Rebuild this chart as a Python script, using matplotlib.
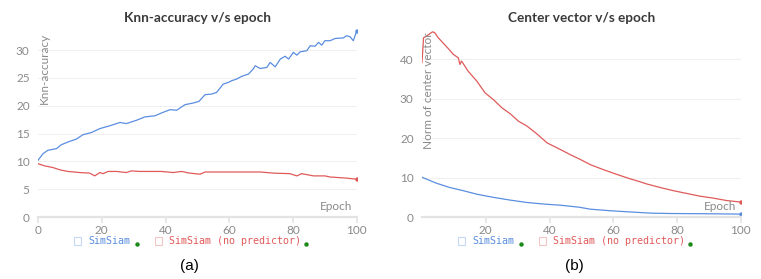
import matplotlib
matplotlib.use("Agg")
import matplotlib.pyplot as plt
from matplotlib.lines import Line2D
from matplotlib.patches import Rectangle

# --- Knn-accuracy v/s epoch ---
knn_simsiam_epoch = [0, 1.6, 3.1, 5.8, 7.3, 9.9, 12.0, 14.1, 16.8, 19.4, 22.5, 25.7, 27.7, 30.9,
                     33.5, 36.7, 38.7, 41.4, 43.5, 46.1, 48.7, 50.5, 52.4, 54.4, 56.0, 58.1, 59.7,
                     60.7, 62.3, 63.9, 66.0, 67.5, 68.1, 69.7, 71.8, 72.8, 74.4, 76.0, 77.5, 78.6,
                     80.1, 81.2, 82.2, 84.3, 85.4, 86.9, 88.0, 89.0, 90.0, 91.6, 93.2, 95.8, 96.8,
                     97.9, 98.9, 100]
knn_simsiam = [10.2, 11.4, 12.0, 12.3, 13.0, 13.6, 14.0, 14.8, 15.2, 15.9, 16.4, 17.0, 16.8, 17.4,
               18.0, 18.2, 18.7, 19.3, 19.2, 20.2, 20.5, 20.8, 22.0, 22.1, 22.4, 23.9, 24.2,
               24.5, 24.8, 25.3, 25.7, 26.6, 27.2, 26.7, 26.9, 27.8, 27.0, 28.4, 28.9, 28.4,
               29.6, 29.1, 29.7, 29.9, 30.8, 30.7, 31.4, 30.9, 31.7, 31.7, 32.1, 32.2, 32.6,
               32.4, 31.7, 33.5]

knn_nopred_epoch = [0, 2.1, 4.7, 6.8, 9.4, 13.1, 16.2, 17.8, 19.4, 20.4, 22.0, 24.6, 27.7, 29.3,
                    31.9, 35.1, 38.7, 42.4, 45.0, 47.6, 50.8, 52.4, 61.3, 69.7, 73.8, 79.0, 81.2,
                    82.7, 86.4, 90.0, 91.6, 96.8, 100]
knn_nopred = [9.6, 9.2, 8.9, 8.5, 8.2, 8.0, 7.9, 7.4, 8.0, 7.8, 8.2, 8.2, 8.0, 8.3,
              8.2, 8.2, 8.2, 8.0, 8.2, 7.9, 7.7, 8.1, 8.1, 8.1, 7.9, 7.8, 7.4,
              7.8, 7.4, 7.4, 7.2, 7.0, 6.8]

# --- Center vector v/s epoch ---
cv_nopred_epoch = [0, 0.5, 1.4, 2.4, 3.3, 4.0, 5.1, 6.6, 8.2, 9.8, 11.4, 11.9, 12.4, 14.5, 17.2,
                   19.8, 22.4, 25.1, 27.7, 30.3, 32.9, 35.6, 39.3, 43.5, 46.6, 49.7, 52.8, 57.0,
                   61.2, 65.3, 67.4, 70.5, 74.7, 78.8, 83.0, 87.2, 91.4, 95.5, 100]
cv_nopred = [39.2, 45.5, 45.9, 46.5, 47.0, 46.8, 45.5, 44.2, 42.8, 41.3, 40.4, 38.7, 39.6, 37.0,
             34.5, 31.5, 29.8, 27.7, 26.2, 24.3, 23.1, 21.4, 18.8, 17.1, 15.8, 14.6, 13.3, 12.0,
             10.8, 9.7, 9.2, 8.4, 7.5, 6.7, 6.0, 5.3, 4.8, 4.2, 3.8]

cv_simsiam_epoch = [0, 4.5, 8.7, 12.9, 17.2, 22.4, 27.7, 32.9, 38.2, 43.5, 49.3, 52.8, 59.1, 65.3,
                    71.6, 77.8, 88.2, 100]
cv_simsiam = [10.1, 8.6, 7.5, 6.7, 5.8, 5.0, 4.3, 3.7, 3.3, 3.0, 2.5, 2.0, 1.6, 1.3,
              1.0, 0.9, 0.85, 0.75]

BLUE = "#5b8ee0"
RED = "#e05a5a"
GREEN = "#1a8a1a"
GRAY = "#8a8a8a"

plt.rcParams["font.family"] = ["Lato", "DejaVu Sans"]

W, H = 761, 279
fig = plt.figure(figsize=(W / 100, H / 100), dpi=100)


def style_axes(ax, ylabel, ymax, yticks, xticks):
    for s in ["top", "right", "left"]:
        ax.spines[s].set_visible(False)
    ax.spines["bottom"].set_color("#e3e3e3")
    ax.spines["bottom"].set_linewidth(1.6)
    ax.set_ylim(0, ymax)
    ax.set_xlim(0, 100)
    ax.set_yticks(yticks)
    ax.set_xticks(xticks)
    ax.tick_params(axis="y", length=0, labelsize=8.5, labelcolor=GRAY, pad=6)
    ax.tick_params(axis="x", length=4, color="#e3e3e3", width=1.2, labelsize=8.5,
                   labelcolor=GRAY, pad=2)
    ax.grid(axis="y", color="#f0f0f0", linewidth=0.8)
    ax.set_axisbelow(True)
    ax.text(0.985, 0.025, "Epoch", transform=ax.transAxes, ha="right", va="bottom",
            fontsize=8.5, color=GRAY)
    ax.text(0.003, 0.975, ylabel, transform=ax.transAxes, rotation=90, ha="left", va="top",
            fontsize=8.5, color=GRAY)


# left panel
ax1 = fig.add_axes([0.0499, 0.222, 0.419, 0.678])
ax1.plot(knn_nopred_epoch, knn_nopred, color=RED, lw=0.9)
ax1.plot(knn_simsiam_epoch, knn_simsiam, color=BLUE, lw=0.9)
ax1.plot(knn_simsiam_epoch[-1], knn_simsiam[-1], "o", color=BLUE, ms=2.2)
ax1.plot(knn_nopred_epoch[-1], knn_nopred[-1], "o", color=RED, ms=2.2)
style_axes(ax1, "Knn-accuracy", 34, [0, 5, 10, 15, 20, 25, 30], [0, 20, 40, 60, 80, 100])
ax1.set_title("Knn-accuracy v/s epoch", fontsize=9.8, color="#3a3a3a", fontweight="bold",
              pad=4)

# right panel
ax2 = fig.add_axes([0.5545, 0.222, 0.419, 0.678])
ax2.plot(cv_nopred_epoch, cv_nopred, color=RED, lw=0.9)
ax2.plot(cv_simsiam_epoch, cv_simsiam, color=BLUE, lw=0.9)
ax2.plot(cv_simsiam_epoch[-1], cv_simsiam[-1], "o", color=BLUE, ms=2.2)
ax2.plot(cv_nopred_epoch[-1], cv_nopred[-1], "o", color=RED, ms=2.2)
style_axes(ax2, "Norm of center vector", 48, [0, 10, 20, 30, 40], [20, 40, 60, 80, 100])
ax2.set_title("Center vector v/s epoch", fontsize=9.8, color="#3a3a3a", fontweight="bold",
              pad=4)


def legend_row(x0, y):
    mono = dict(family="DejaVu Sans Mono", fontsize=7.2, va="center")
    items = [(x0, BLUE, "SimSiam", x0 + 63), (x0 + 81, RED, "SimSiam (no predictor)", x0 + 232)]
    for xs, col, label, xdot in items:
        fig.add_artist(Rectangle((xs / W, y - 4 / H), 7 / W, 8 / H, transform=fig.transFigure,
                                 fill=False, edgecolor=col, alpha=0.35, lw=0.8))
        fig.text((xs + 14) / W, y, label, color=col, **mono)
        fig.add_artist(Line2D([xdot / W], [y - 0.01], transform=fig.transFigure,
                              marker="o", ms=2.2, color=GREEN, lw=0))


legend_row(74, 1 - 241 / H)
legend_row(458, 1 - 241 / H)

fig.text(189 / W, 1 - 266 / H, "(a)", ha="center", va="center", fontsize=11,
         family="Liberation Sans")
fig.text(574 / W, 1 - 266 / H, "(b)", ha="center", va="center", fontsize=11,
         family="Liberation Sans")

fig.savefig("out.png", dpi=100)
